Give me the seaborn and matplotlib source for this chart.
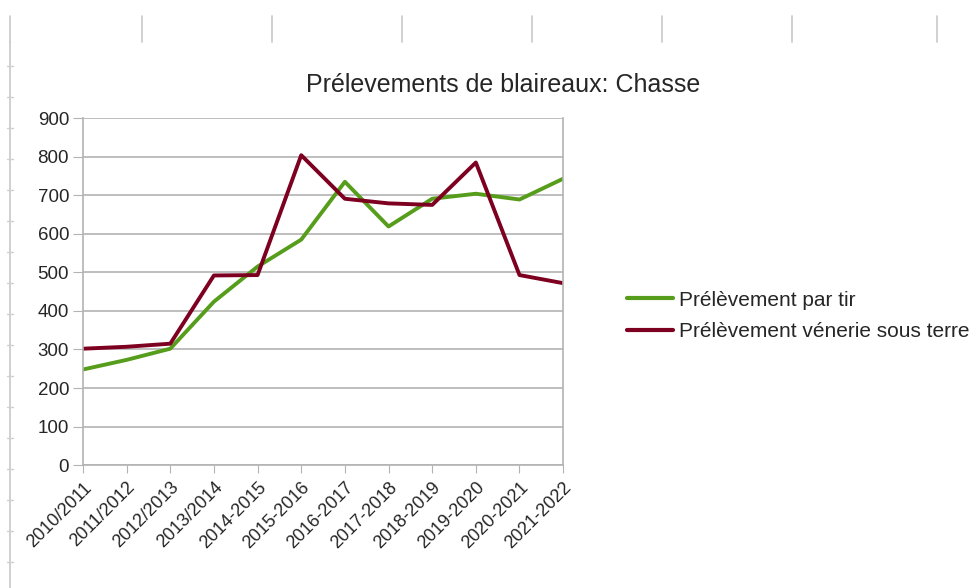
import matplotlib
matplotlib.use("Agg")
import matplotlib.pyplot as plt
from matplotlib.lines import Line2D
import seaborn as sns
import pandas as pd

saisons = ["2010/2011", "2011/2012", "2012/2013", "2013/2014", "2014-2015", "2015-2016",
           "2016-2017", "2017-2018", "2018-2019", "2019-2020", "2020-2021", "2021-2022"]
tir = [248, 273, 302, 424, 515, 585, 735, 619, 691, 704, 689, 743]
venerie = [302, 307, 315, 492, 493, 804, 691, 679, 675, 785, 493, 472]

serie_tir = "Prélèvement par tir"
serie_venerie = "Prélèvement vénerie sous terre"

df = pd.DataFrame({
    "saison": list(range(len(saisons))) * 2,
    "valeur": tir + venerie,
    "serie": [serie_tir] * len(tir) + [serie_venerie] * len(venerie),
})

sns.set_style("white")
plt.rcParams["font.family"] = ["Liberation Sans", "DejaVu Sans"]

fig = plt.figure(figsize=(9.76, 5.88), dpi=100)
ax = fig.add_axes([0.085, 0.209, 0.492, 0.590])

sns.lineplot(data=df, x="saison", y="valeur", hue="serie", ax=ax,
             palette={serie_tir: "#579d1c", serie_venerie: "#7e0021"},
             linewidth=2.8, legend=False)

gris = "#b3b3b3"
ax.set_xlim(0, len(saisons) - 1)
ax.set_ylim(0, 900)
ax.set_yticks(range(0, 901, 100))
ax.set_xticks(range(len(saisons)))
ax.set_xticklabels(saisons, rotation=45, ha="right", rotation_mode="anchor", fontsize=13)
ax.tick_params(axis="y", labelsize=13.5, length=7, color=gris, direction="out", left=True, pad=3)
ax.tick_params(axis="x", length=6, color=gris, direction="out", bottom=True, pad=4)
ax.grid(axis="y", color=gris, linewidth=1.2)
ax.set_axisbelow(True)
for s in ax.spines.values():
    s.set_color(gris)
    s.set_linewidth(1.2)
ax.spines["top"].set_visible(False)
ax.set_xlabel("")
ax.set_ylabel("")

fig.text(0.516, 0.856, "Prélevements de blaireaux: Chasse", ha="center", va="center", fontsize=18)

handles = [Line2D([], [], color="#579d1c", linewidth=3),
           Line2D([], [], color="#7e0021", linewidth=3)]
fig.legend(handles, [serie_tir, serie_venerie], loc="center left",
           bbox_to_anchor=(0.642, 0.463), frameon=False, fontsize=15,
           handlelength=2.25, handletextpad=0.25, labelspacing=0.6, borderaxespad=0,
           borderpad=0)

# repères de la feuille de calcul
for xp in [10, 142, 272, 402, 532, 662, 792, 937]:
    fig.add_artist(Line2D([xp / 976, xp / 976], [1 - 16 / 588, 1 - 42 / 588],
                          color="#c8c8c8", linewidth=1.2))
fig.add_artist(Line2D([10 / 976, 10 / 976], [0, 1 - 42 / 588], color="#c8c8c8", linewidth=1.2))
for yp in range(66, 588, 31):
    fig.add_artist(Line2D([7 / 976, 13 / 976], [1 - yp / 588, 1 - yp / 588],
                          color="#d0d0d0", linewidth=1))

fig.savefig("out.png", dpi=100)
